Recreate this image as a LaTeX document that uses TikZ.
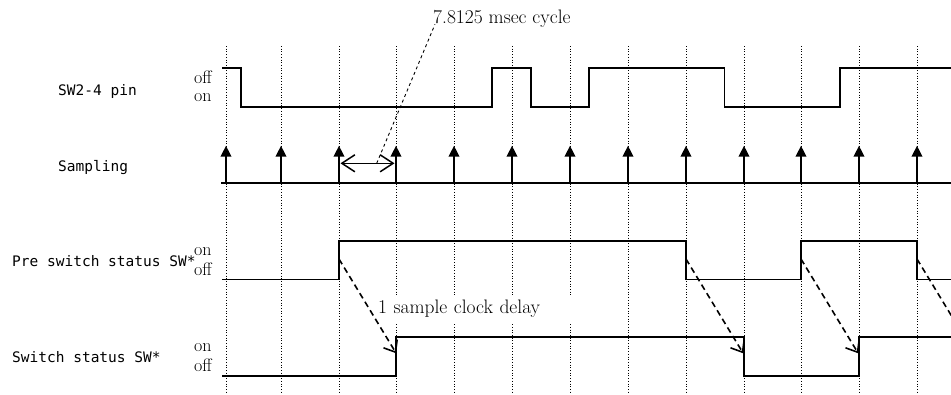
\documentclass[tikz,border=0pt]{standalone}
\usepackage{fontspec}
\setmonofont{DejaVu Sans Mono}
\usepackage{tikz}
\usetikzlibrary{arrows.meta}

\begin{document}
\begin{tikzpicture}[x=1pt,y=-1pt,
  sig/.style={line width=1.6pt},
  gridline/.style={dotted,line width=0.7pt},
  sample/.style={line width=2pt,-{Triangle[length=11pt,width=10.5pt]}},
  delay/.style={dash pattern=on 6pt off 4pt,line width=1.6pt,-{Straight Barb[length=10pt,width=16pt]}},
  lvl/.style={font=\fontsize{18}{18}\selectfont,inner sep=0pt,anchor=base west},
  note/.style={font=\fontsize{19.5}{19.5}\selectfont,inner sep=0pt,anchor=base west},
  lbl/.style={font=\ttfamily\fontsize{14.5}{14.5}\selectfont,inner sep=0pt,anchor=base west}]
\useasboundingbox (0,0) rectangle (951,394);
\clip (0,0) rectangle (951,394);

% sampling instants
\foreach \x [count=\i] in {226,281,339,396,454,512,570,628,686,744,801,859,917}{
  \draw[gridline] (\x,46) -- (\x,394);
  \coordinate (t\i) at (\x,182.7);
  \coordinate (p\i) at (\x,259);
  \coordinate (s\i) at ({\x+57.2},353.3);
}

\node[note,fill=white,inner xsep=0pt,inner ysep=5pt,text width=195pt] (delaytext) at (378,313.3) {1 sample clock delay};

% labels
\node[lbl] (pin) at (58,95) {SW2-4 pin};
\node[lbl] (smp) at (58,171) {Sampling};
\node[lbl] (pre) at (12,266) {Pre switch status SW*};
\node[lbl] (sw) at (12,362.7) {Switch status SW*};
\node[lvl] (pinoff) at (194,83.3) {off};
\node[lvl] (pinon) at (194,101.7) {on};
\node[lvl] (preon) at (194,255) {on};
\node[lvl] (preoff) at (194,275) {off};
\node[lvl] (swon) at (194,351.7) {on};
\node[lvl] (swoff) at (194,371) {off};
\node[note] (cycle) at (433,23.3) {7.8125 msec cycle};

% signals
\draw[sig] (222,67.7) -| (241,106.7) -| (492,67.7) -| (530.7,106.7) -| (589,67.7) -| (724.3,106.7) -| (839.7,67.7) -- (951,67.7);
\draw[sig] (221,182.7) -- (951,182.7);
\draw[sig] (222,279.3) -| (339,241) -| (686,279.3) -| (801,241) -| (917,279.3) -- (951,279.3);
\draw[sig] (222,375.7) -| (396,336.7) -| (744,375.7) -| (859,336.7) -- (951,336.7);

\foreach \i in {1,...,13}
  \draw[sample] (t\i) -- ++(0,-37);

% cycle
\coordinate (cyca) at (340.5,163.3);
\coordinate (cycb) at (394.5,163.3);
\draw[line width=1.5pt,{Straight Barb[length=13pt,width=17pt]}-{Straight Barb[length=13pt,width=17pt]}] (cyca) -- (cycb);
\draw[dashed,line width=0.9pt] (376.7,163.3) -- ([xshift=2pt,yshift=-1pt]cycle.base west);

% delay
\foreach \i in {3,9,11,13}
  \draw[delay] (p\i) -- (s\i);

\end{tikzpicture}
\end{document}
